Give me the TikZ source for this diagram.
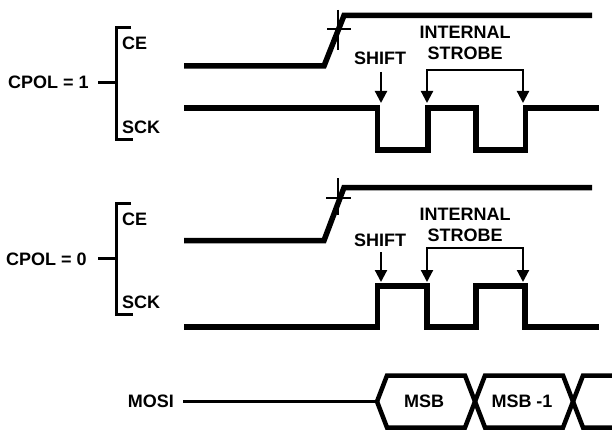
\documentclass[tikz,border=0pt]{standalone}
\usepackage{fontspec}
\setmainfont{Liberation Sans}
\usetikzlibrary{arrows.meta}
\begin{document}
\begin{tikzpicture}[x=1pt,y=-1pt,
  lbl/.style={inner sep=0pt,font=\bfseries\fontsize{18}{21}\selectfont},
  wave/.style={line width=5.5pt,line join=miter},
  brk/.style={line width=3pt},
  cross/.style={line width=1.2pt},
  arr/.style={line width=2.2pt,-{Triangle[length=12pt,width=12pt]}},
  arrb/.style={line width=2.2pt,{Triangle[length=12pt,width=12pt]}-{Triangle[length=12pt,width=12pt]}},
  hex/.style={line width=4.5pt,line join=miter},
  bus/.style={line width=2.8pt}]
\useasboundingbox (0,0) rectangle (612,433);
% ---------- CPOL = 1 ----------
\node[lbl,anchor=west] (cpol1) at (8,82) {CPOL = 1};
\node[lbl,anchor=west] (ce1) at (122,43) {CE};
\node[lbl,anchor=west] (sck1) at (122,127) {SCK};
\coordinate (b1s) at (98,83);
\coordinate (b1m) at (116,83);
\draw[brk] (131,28) -- (116,28) -- (116,139) -- (133,139);
\draw[brk] (b1s) -- (b1m);
\draw[wave] (184,66) -- (324,66) -- (344,15.5) -- (592,15.5);
\draw[cross] (338,10) -- (338,50);
\draw[cross] (327,29) -- (351,29);
\draw[wave] (184,108) -- (377.5,108) -- (377.5,150) -- (428,150) -- (428,108)
  -- (476,108) -- (476,150) -- (525.5,150) -- (525.5,108) -- (599,108);
\node[lbl] (shift1) at (380,58) {SHIFT};
\node[lbl,align=center] (strobe1) at (465,42.5) {INTERNAL\\STROBE};
\coordinate (sa1) at (381,72);
\coordinate (st1) at (381,103);
\draw[arr] (sa1) -- (st1);
\coordinate (ta1) at (427,103);
\coordinate (tb1) at (523,103);
\coordinate (tc1) at (427,70);
\coordinate (td1) at (523,70);
\draw[arrb] (ta1) -- (tc1) -- (td1) -- (tb1);
% ---------- CPOL = 0 ----------
\node[lbl,anchor=west] (cpol0) at (6,259) {CPOL = 0};
\node[lbl,anchor=west] (ce0) at (122,219) {CE};
\node[lbl,anchor=west] (sck0) at (122,302) {SCK};
\coordinate (b0s) at (98,258);
\coordinate (b0m) at (116,258);
\draw[brk] (131,203) -- (116,203) -- (116,314) -- (133,314);
\draw[brk] (b0s) -- (b0m);
\draw[wave] (184,240.5) -- (324,240.5) -- (344,187.5) -- (592,187.5);
\draw[cross] (338,178) -- (338,215);
\draw[cross] (326,198) -- (351,198);
\draw[wave] (184,327) -- (377.5,327) -- (377.5,286) -- (427,286) -- (427,327)
  -- (476,327) -- (476,286) -- (525,286) -- (525,327) -- (599,327);
\node[lbl] (shift0) at (380,240) {SHIFT};
\node[lbl,align=center] (strobe0) at (465,225) {INTERNAL\\STROBE};
\coordinate (sa0) at (381,252);
\coordinate (st0) at (381,282);
\draw[arr] (sa0) -- (st0);
\coordinate (ta0) at (427,282);
\coordinate (tb0) at (523,282);
\coordinate (tc0) at (427,248);
\coordinate (td0) at (523,248);
\draw[arrb] (ta0) -- (tc0) -- (td0) -- (tb0);
% ---------- MOSI ----------
\node[lbl,anchor=east] (mosi) at (174,401) {MOSI};
\coordinate (m0) at (183,401.5);
\coordinate (m1) at (377,401.5);
\draw[bus] (m0) -- (m1);
\draw[hex] (m1) -- (387,375.5) -- (465,375.5) -- (485,427.5) -- (563,427.5) -- (583,375.5) -- (614,375.5);
\draw[hex] (m1) -- (387,427.5) -- (465,427.5) -- (485,375.5) -- (563,375.5) -- (583,427.5) -- (614,427.5);
\node[lbl] (msb) at (424,401) {MSB};
\node[lbl] (msb1) at (522,401) {MSB -1};
\end{tikzpicture}
\end{document}
